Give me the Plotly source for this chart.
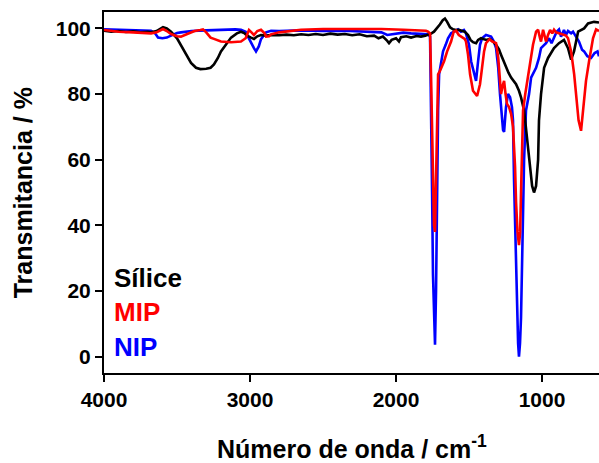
import plotly.graph_objects as go

# ---- Data ----
silice_wn = [4000, 3950, 3900, 3850, 3800, 3750, 3700, 3678, 3640, 3610, 3596, 3570, 3541, 3500, 3473, 3440,
             3404, 3370, 3340, 3300, 3270, 3247, 3220, 3199, 3160, 3130, 3090, 3062, 3040, 3020, 2993, 2973,
             2950, 2925, 2890, 2856, 2800, 2750, 2700, 2650, 2600, 2550, 2500, 2450, 2400, 2350, 2300, 2250,
             2200, 2150, 2120, 2090, 2060, 2048, 2030, 2000, 1980, 1966, 1930, 1897, 1860, 1829, 1800, 1781,
             1760, 1740, 1720, 1700, 1680, 1665, 1650, 1630, 1610, 1590, 1570, 1555, 1530, 1507, 1490, 1473,
             1452, 1438, 1418, 1397, 1380, 1360, 1340, 1315, 1295, 1281, 1267, 1247, 1230, 1212, 1192, 1178,
             1158, 1144, 1123, 1110, 1089, 1068, 1055, 1041, 1027, 1021, 1007, 986, 959, 938, 918, 884, 850,
             822, 801, 781, 753, 712, 685, 644, 610]
silice_t = [99.3, 99.0, 99.2, 98.9, 99.1, 98.8, 99.0, 98.8, 99.2, 100.2, 100.4, 100.0, 99.0, 97.0, 95.0, 92.5,
            89.5, 88.0, 87.6, 87.7, 88.0, 89.0, 91.0, 93.0, 95.5, 97.2, 98.5, 99.0, 98.6, 97.8, 97.2, 96.8,
            97.6, 98.0, 97.8, 98.0, 97.9, 98.1, 97.9, 98.2, 98.0, 98.3, 98.0, 98.4, 98.1, 98.3, 97.9, 98.2,
            97.6, 97.8, 97.0, 97.5, 96.2, 95.5, 96.5, 97.0, 96.0, 97.3, 97.6, 97.2, 97.7, 97.5, 97.8, 98.0,
            98.4, 99.0, 100.0, 101.2, 102.5, 103.0, 102.0, 100.3, 99.7, 99.5, 99.6, 99.3, 99.0, 98.0, 96.5, 95.8,
            95.5, 96.5, 97.0, 96.7, 96.5, 96.8, 96.2, 95.0, 93.6, 92.0, 90.5, 88.0, 86.5, 85.0, 84.0, 83.0,
            81.0, 79.0, 75.0, 70.0, 60.0, 52.0, 50.0, 52.0, 60.0, 72.0, 80.0, 88.0, 91.0, 92.5, 94.0, 95.5, 96.5,
            94.0, 90.5, 93.0, 99.0, 100.0, 101.5, 102.0, 101.8]

mip_wn = [4000, 3900, 3800, 3700, 3678, 3640, 3610, 3596, 3570, 3541, 3500, 3473, 3430, 3380, 3340, 3322,
          3300, 3270, 3247, 3220, 3199, 3130, 3062, 3030, 3007, 2990, 2973, 2950, 2925, 2900, 2890, 2870,
          2856, 2800, 2700, 2651, 2500, 2300, 2100, 1950, 1829, 1795, 1781, 1767, 1760, 1753, 1747, 1740,
          1733, 1726, 1719, 1712, 1700, 1685, 1671, 1650, 1623, 1605, 1589, 1570, 1550, 1530, 1521, 1507,
          1493, 1473, 1445, 1425, 1411, 1397, 1384, 1360, 1340, 1315, 1300, 1290, 1281, 1270, 1260, 1250,
          1240, 1226, 1212, 1199, 1185, 1178, 1168, 1158, 1150, 1144, 1137, 1130, 1115, 1100, 1089, 1075,
          1062, 1041, 1027, 1014, 1007, 993, 980, 973, 959, 945, 930, 918, 904, 880, 850, 836, 822, 801,
          780, 767, 750, 733, 720, 699, 678, 651, 630, 610]
mip_t = [99.5, 99.0, 98.8, 98.5, 98.5, 98.8, 99.6, 99.8, 99.2, 98.3, 97.6, 97.5, 98.3, 99.2, 99.5, 99.7,
         98.8, 97.2, 96.8, 96.3, 96.0, 95.8, 96.0, 97.0, 99.5, 98.8, 98.0, 99.2, 99.6, 98.5, 97.5, 97.6,
         98.2, 98.8, 99.2, 99.6, 99.8, 99.9, 99.8, 99.6, 99.3, 99.3, 99.0, 98.5, 85.0, 65.0, 50.0, 40.0,
         38.0, 55.0, 75.0, 86.0, 87.0, 88.5, 90.0, 93.0, 96.0, 99.0, 99.3, 98.0, 97.3, 96.8, 96.0, 92.0,
         86.0, 81.0, 79.4, 83.0, 88.0, 93.0, 95.5, 96.7, 96.0, 95.5, 91.0, 85.0, 80.0, 82.5, 84.0, 80.0,
         77.0, 76.0, 74.0, 70.0, 58.0, 47.0, 38.0, 34.0, 38.0, 50.0, 65.0, 75.0, 80.0, 84.0, 88.0, 92.0,
         95.0, 99.0, 99.6, 97.0, 96.0, 99.6, 97.0, 96.0, 98.0, 99.5, 98.5, 99.6, 98.8, 98.5, 98.2, 97.8,
         97.0, 93.0, 86.0, 80.0, 72.0, 68.8, 74.0, 84.0, 90.0, 97.0, 99.7, 99.2]

nip_wn = [4000, 3900, 3800, 3700, 3678, 3650, 3630, 3600, 3570, 3541, 3500, 3473, 3400, 3300, 3200, 3100,
          3062, 3030, 3014, 2993, 2973, 2959, 2940, 2925, 2911, 2890, 2856, 2800, 2650, 2500, 2350, 2200,
          2100, 2060, 2000, 1950, 1897, 1829, 1795, 1781, 1767, 1760, 1753, 1747, 1740, 1733, 1726, 1719,
          1712, 1705, 1692, 1678, 1660, 1644, 1623, 1600, 1575, 1555, 1535, 1521, 1500, 1486, 1466, 1452,
          1438, 1425, 1411, 1397, 1384, 1349, 1330, 1315, 1300, 1288, 1274, 1267, 1260, 1247, 1233, 1219,
          1206, 1199, 1192, 1185, 1178, 1171, 1164, 1158, 1151, 1144, 1137, 1130, 1123, 1110, 1089, 1075,
          1041, 1021, 1007, 973, 952, 935, 918, 900, 884, 870, 850, 836, 822, 801, 788, 767, 747, 726,
          712, 690, 664, 640, 620, 610]
nip_t = [99.7, 99.6, 99.5, 99.5, 99.3, 98.5, 97.2, 97.0, 97.2, 97.8, 98.6, 98.8, 99.2, 99.4, 99.6, 99.7,
         99.6, 99.0, 97.5, 95.5, 94.0, 93.0, 94.5, 96.7, 97.5, 98.8, 99.3, 99.2, 99.4, 99.2, 99.3, 99.0,
         98.8, 98.0, 98.5, 98.7, 98.5, 98.4, 98.3, 98.2, 97.5, 80.0, 50.0, 25.0, 10.0, 3.6, 20.0, 55.0,
         75.0, 86.0, 90.0, 93.0, 95.0, 97.0, 98.5, 99.2, 99.7, 99.0, 99.5, 98.5, 95.0, 90.0, 86.0, 84.0,
         90.0, 95.0, 97.0, 97.5, 98.0, 97.5, 96.0, 94.0, 88.0, 80.0, 72.0, 69.0, 68.5, 76.0, 80.0, 79.0,
         76.0, 72.0, 54.0, 40.0, 25.0, 12.0, 4.0, 0.0, 4.0, 12.0, 28.0, 40.0, 60.0, 75.0, 80.0, 85.0,
         88.0, 91.0, 94.0, 95.5, 97.0, 95.5, 97.5, 99.0, 99.7, 97.5, 99.5, 98.0, 99.2, 98.5, 99.0, 97.5,
         96.0, 93.5, 93.0, 91.5, 91.0, 92.5, 93.0, 91.5]

x_ticks = [4000, 3000, 2000, 1000]
y_ticks = [0, 20, 40, 60, 80, 100]

FONT = "Arial, Liberation Sans, sans-serif"

fig = go.Figure()
fig.add_trace(go.Scatter(x=nip_wn, y=nip_t, mode="lines", line=dict(color="#0000ff", width=2.6), name="NIP"))
fig.add_trace(go.Scatter(x=silice_wn, y=silice_t, mode="lines", line=dict(color="#000000", width=2.6), name="Sílice"))
fig.add_trace(go.Scatter(x=mip_wn, y=mip_t, mode="lines", line=dict(color="#ff0000", width=2.6), name="MIP"))

fig.update_layout(
    width=599, height=463,
    margin=dict(l=104, r=0, t=12, b=90),
    paper_bgcolor="white", plot_bgcolor="white",
    showlegend=False,
    font=dict(family=FONT, color="black"),
)
fig.update_xaxes(
    range=[4000, 610], tickvals=x_ticks, ticktext=[f"<b>{v}</b>" for v in x_ticks],
    showline=True, linecolor="black", linewidth=2, mirror=True,
    ticks="outside", ticklen=7, tickwidth=2, tickcolor="black",
    tickfont=dict(family=FONT, size=21, color="black"),
    showgrid=False, zeroline=False,
)
fig.update_yaxes(
    range=[-5, 105], tickvals=y_ticks, ticktext=[f"<b>{v}</b>" for v in y_ticks],
    showline=True, linecolor="black", linewidth=2, mirror=False,
    ticks="outside", ticklen=7, tickwidth=2, tickcolor="black",
    tickfont=dict(family=FONT, size=21, color="black"),
    showgrid=False, zeroline=False,
)

annots = [
    dict(text="<b>Número de onda / cm<sup>-1</sup></b>", x=0.5, y=-0.205, xref="paper", yref="paper",
         xanchor="center", yanchor="middle", showarrow=False, font=dict(family=FONT, size=25, color="black")),
    dict(text="<b>Transmitancia / %</b>", x=-0.164, y=0.5, xref="paper", yref="paper", textangle=-90,
         xanchor="center", yanchor="middle", showarrow=False, font=dict(family=FONT, size=25, color="black")),
    dict(text="<b>Sílice</b>", x=0.016, y=0.263, xref="paper", yref="paper", xanchor="left", yanchor="middle",
         showarrow=False, font=dict(family=FONT, size=26, color="#000000")),
    dict(text="<b>MIP</b>", x=0.016, y=0.169, xref="paper", yref="paper", xanchor="left", yanchor="middle",
         showarrow=False, font=dict(family=FONT, size=26, color="#ff0000")),
    dict(text="<b>NIP</b>", x=0.016, y=0.072, xref="paper", yref="paper", xanchor="left", yanchor="middle",
         showarrow=False, font=dict(family=FONT, size=26, color="#0000ff")),
]
fig.update_layout(annotations=annots)

fig.write_html("out.html")
